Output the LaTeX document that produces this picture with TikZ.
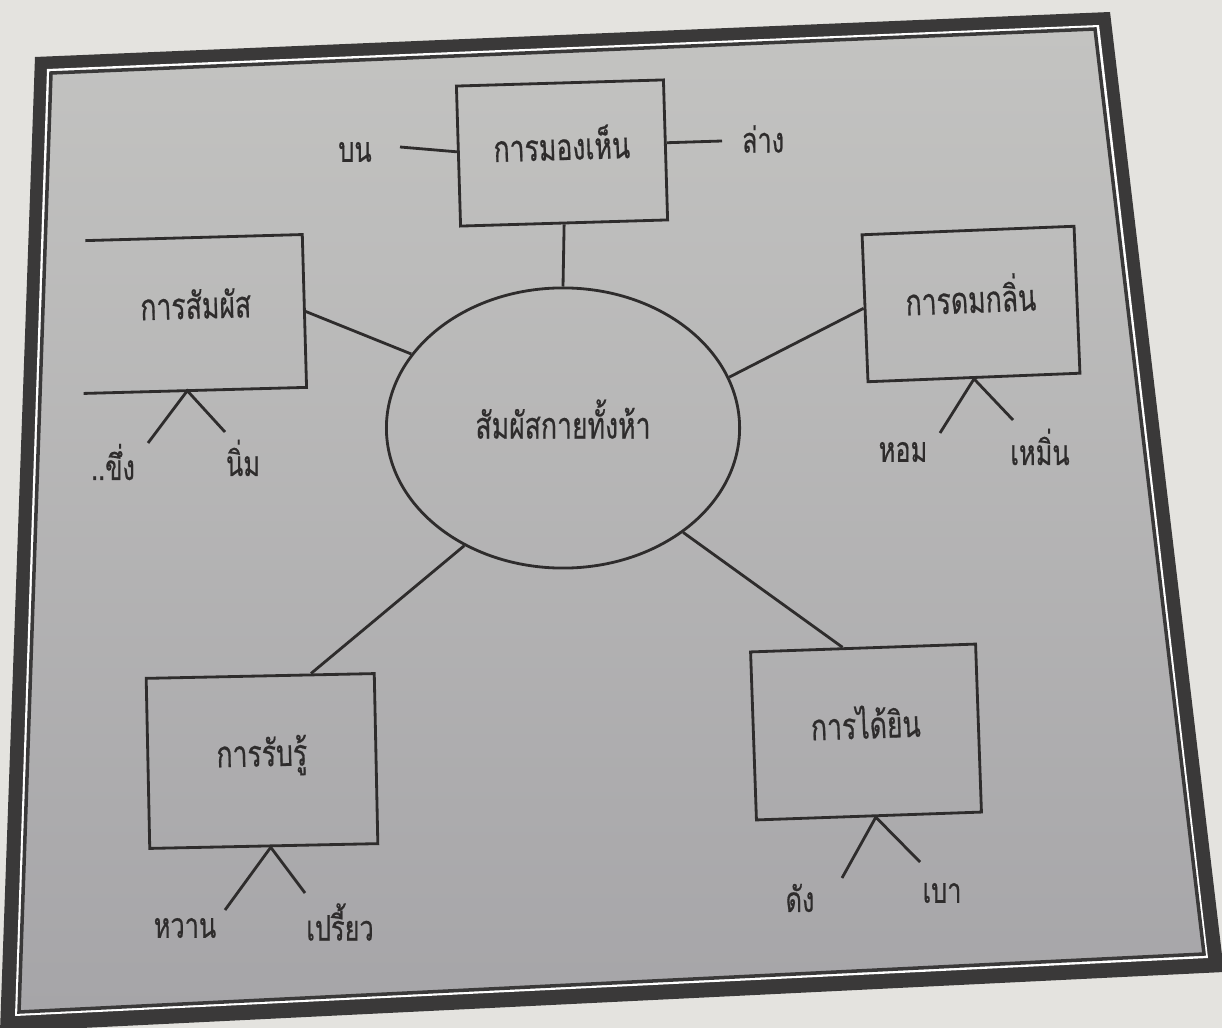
\documentclass[tikz,border=0pt]{standalone}
\usepackage{fontspec}
\newfontfamily\thaifont[Script=Thai, FakeStretch=0.72, FakeBold=0.5]{Loma}
\usetikzlibrary{shapes.geometric,calc}
\definecolor{paper}{HTML}{E4E3DF}
\definecolor{framedark}{HTML}{3A3939}
\definecolor{ink}{HTML}{2E2C2C}
\definecolor{graytop}{HTML}{C3C3C1}
\definecolor{graybot}{HTML}{A6A5A8}
\tikzset{
  sensebox/.style={draw=ink, line width=0.8pt, rectangle, inner sep=0pt,
    text depth=0.2cm,
    font=\thaifont\fontsize{10.5}{13}\selectfont, text=ink},
  openbox/.style={sensebox, draw=none},
  centre/.style={draw=ink, line width=0.8pt, ellipse, inner sep=0pt,
    text depth=0.18cm,
    minimum width=3.53cm, minimum height=2.80cm,
    font=\thaifont\fontsize{10.5}{13}\selectfont, text=ink},
  conn/.style={draw=ink, line width=0.8pt},
  leaf/.style={font=\thaifont\fontsize{10}{13}\selectfont, text=ink, inner sep=1pt},
}
\begin{document}
\begin{tikzpicture}[x=0.01cm, y=-0.01cm]
\useasboundingbox (0,0) rectangle (1222,1028);
\begin{scope}
\clip (0,0) rectangle (1222,1028);
\fill[paper] (0,0) rectangle (1222,1028);
\fill[framedark] (35,57) -- (1110,12) -- (1224,972) -- (0,1032) -- cycle;
\fill[white] (47,69) -- (1099,25) -- (1208,958) -- (15,1016) -- cycle;
\shade[top color=graytop, bottom color=graybot, draw=framedark, line width=1pt]
  (51,73) -- (1095,29) -- (1204,954) -- (19,1012) -- cycle;
\end{scope}

% centre
\node[centre] (E) at (563,428) {สัมผัสกายทั้งห้า};

% boxes
\node[sensebox, minimum width=2.07cm, minimum height=1.40cm, rotate=1.7] (T) at (562,153) {การมองเห็น};
\node[openbox, minimum width=2.14cm, minimum height=1.50cm, rotate=1.6] (L) at (196,314) {การสัมผัส};
\draw[conn] (L.north west) -- (L.north east) -- (L.south east) -- ([xshift=-0.06cm]L.south west);
\node[sensebox, minimum width=2.12cm, minimum height=1.47cm, rotate=2.3] (R) at (971,304) {การดมกลิ่น};
\node[sensebox, minimum width=2.28cm, minimum height=1.70cm, rotate=1.2] (BL) at (262,761) {การรับรู้};
\node[sensebox, minimum width=2.25cm, minimum height=1.68cm, rotate=2.0] (BR) at (866,732) {การได้ยิน};

% top labels
\node[leaf] (bon) at (355,152) {บน};
\node[leaf] (lang) at (763,139) {ล่าง};
\coordinate (bonend) at (400,147);
\coordinate (langend) at (722,141);
\draw[conn] (bonend) -- ($(T.north west)!0.47!(T.south west)$);
\draw[conn] ($(T.north east)!0.45!(T.south east)$) -- (langend);

% connectors to centre
\draw[conn] (T.south) -- (E.north);
\draw[conn] ($(L.north east)!0.5!(L.south east)$) -- (E.154);
\draw[conn] (R.west) -- (E.17);
\draw[conn] (E.230) -- ($(BL.north west)!0.72!(BL.north east)$);
\draw[conn] (E.319) -- ($(BR.north west)!0.41!(BR.north east)$);

% forks
\coordinate (La) at ($(L.south west)!0.45!(L.south east)$);
\coordinate (L1) at (148,443);
\coordinate (L2) at (225,432);
\draw[conn] (L1) -- (La) -- (L2);
\node[leaf] (l1) at (113,462) {..ขึ่ง};
\node[leaf] (l2) at (243,458) {นิ่ม};

\coordinate (Ra) at ($(R.south west)!0.5!(R.south east)$);
\coordinate (R1) at (940,433);
\coordinate (R2) at (1013,420);
\draw[conn] (R1) -- (Ra) -- (R2);
\node[leaf] (r1) at (903,452) {หอม};
\node[leaf] (r2) at (1040,447) {เหมิ่น};

\coordinate (BLa) at ($(BL.south west)!0.53!(BL.south east)$);
\coordinate (BL1) at (225,910);
\coordinate (BL2) at (305,893);
\draw[conn] (BL1) -- (BLa) -- (BL2);
\node[leaf] (bl1) at (185,928) {หวาน};
\node[leaf] (bl2) at (340,922) {เปรี้ยว};

\coordinate (BRa) at ($(BR.south west)!0.53!(BR.south east)$);
\coordinate (BR1) at (842,878);
\coordinate (BR2) at (920,862);
\draw[conn] (BR1) -- (BRa) -- (BR2);
\node[leaf] (br1) at (800,898) {ดัง};
\node[leaf] (br2) at (942,893) {เบา};
\end{tikzpicture}
\end{document}
